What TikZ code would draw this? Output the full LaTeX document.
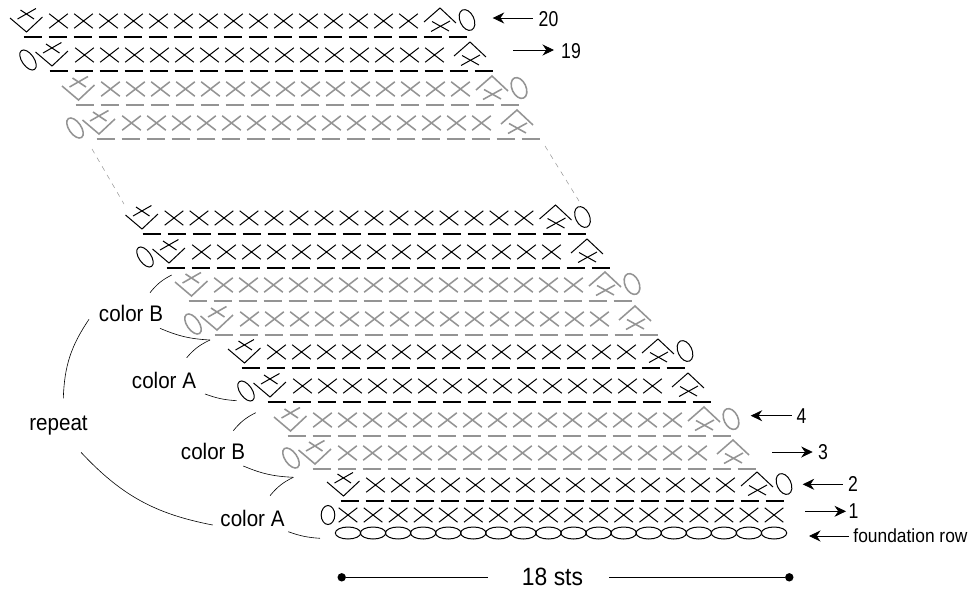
\documentclass[tikz,border=0pt]{standalone}
\usepackage{fontspec}
\setmainfont[FakeStretch=0.915]{Liberation Sans}
\newfontfamily\numfont[FakeStretch=0.82]{Liberation Sans}
\usetikzlibrary{arrows.meta}
\definecolor{stgray}{gray}{0.58}
\tikzset{
  inkst/.style={color=black,line width=1pt,underbar/.style={line width=1.3pt}},
  grayst/.style={color=stgray,line width=1.55pt,underbar/.style={line width=1.9pt}},
  rowarrow/.style={line width=.8pt,-{Stealth[length=11.5pt,width=11pt]}},
  lbl/.style={inner sep=0pt,font=\fontsize{22.5}{24}\selectfont},
  numlbl/.style={inner sep=0pt,font=\numfont\fontsize{21.5}{23}\selectfont},
  dotend/.style={circle,fill=black,inner sep=0pt,minimum size=8.4pt},
  xst/.pic={\draw (-9.3,-7.2) -- (9.3,7.2) (-9.3,7.2) -- (9.3,-7.2);},
  incst/.pic={\draw (-16.5,-3) -- (0,11) -- (16,-4);
    \draw (-9,-2) -- (9.5,-12.5);
    \draw (-6,-11) -- (7.5,-2);},
  decst/.pic={\draw (-16,1) -- (0,-13) -- (16,2);
    \draw (-9,10.5) -- (10,0);
    \draw (-8,0.5) -- (9,10);}
}
\begin{document}
\begin{tikzpicture}[x=1pt,y=-1pt]
  \useasboundingbox (0,0) rectangle (972,595);
  % rows ending in a chain on the right: y, first bar, symbol offset, style
  \foreach \ry/\dz/\so/\st in {21/33/0/inkst,89/85/0/grayst,218/152/-3.5/inkst,285/198/0/grayst,352/251/0/inkst,420/297/0/grayst,485/350/0/inkst}{
    \foreach \k in {0,...,17}
      \draw [\st,underbar] (\dz+25*\k-9.3,\ry+16) -- ++(18.6,0);
    \foreach \k in {0,...,14}
      \pic [\st] at (\dz+\so+25.5+25*\k,\ry) {xst};
    \pic [\st] at (\dz+\so-6.5,\ry) {incst};
    \pic [\st] at (\dz+\so+407,\ry) {decst};
    \draw [\st,shift={(\dz+\so+434,\ry-1)},rotate=25] (0,0) ellipse [x radius=7pt,y radius=11pt];
  }
  % rows starting with a chain on the left
  \foreach \ry/\dz/\st in {55/59/inkst,123/106/grayst,252/176/inkst,319/224/grayst,386/277/inkst,453/322/grayst}{
    \foreach \k in {0,...,17}
      \draw [\st,underbar] (\dz+25*\k-9.3,\ry+16) -- ++(18.6,0);
    \foreach \k in {0,...,14}
      \pic [\st] at (\dz+25.5+25*\k,\ry) {xst};
    \pic [\st] at (\dz-7,\ry) {incst};
    \pic [\st] at (\dz+411,\ry) {decst};
    \draw [\st,shift={(\dz-31,\ry+5)},rotate=35] (0,0) ellipse [x radius=6pt,y radius=11.5pt];
  }
  % row 1 and foundation
  \draw [inkst] (328,515) ellipse [x radius=6.8pt,y radius=9.5pt];
  \foreach \k in {0,...,17}{
    \pic [inkst] at (348+25.06*\k,515) {xst};
    \draw [inkst] (348+25.06*\k,533) ellipse [x radius=12.7pt,y radius=6pt];
  }
  % gap between the two parts
  \coordinate (gapla) at (92,149);
  \coordinate (gaplb) at (124,204);
  \coordinate (gapra) at (545,146);
  \coordinate (gaprb) at (579,201);
  \draw [stgray,line width=.5pt,dash pattern=on 5pt off 5pt] (gapla) -- (gaplb);
  \draw [stgray,line width=.5pt,dash pattern=on 5pt off 5pt] (gapra) -- (gaprb);
  % row numbers
  \node [numlbl] (n20) at (548.5,19) {20};
  \node [numlbl] (n19) at (571,51) {19};
  \node [numlbl] (n4) at (801.5,416) {4};
  \node [numlbl] (n3) at (823,452) {3};
  \node [numlbl] (n2) at (853,484) {2};
  \node [numlbl] (n1) at (853.5,511) {1};
  \node [lbl,font=\fontsize{19}{22}\selectfont] (nf) at (910.5,536) {foundation row};
  \coordinate (t20) at (532.7,18);
  \coordinate (h20) at (492.7,18);
  \coordinate (t19) at (513,50);
  \coordinate (h19) at (554,50);
  \coordinate (t4) at (791.7,415.7);
  \coordinate (h4) at (750.7,415.7);
  \coordinate (t3) at (772,452);
  \coordinate (h3) at (812.7,452);
  \coordinate (t2) at (842.7,484.3);
  \coordinate (h2) at (802.7,484.3);
  \coordinate (t1) at (805.3,511.3);
  \coordinate (h1) at (846,511.3);
  \coordinate (tf) at (849,536);
  \coordinate (hf) at (809,536);
  \foreach \n in {20,19,4,3,2,1,f}
    \draw [rowarrow] (t\n) -- (h\n);
  % width
  \node [lbl,font=\fontsize{25}{27}\selectfont] (sts) at (552.5,577) {18 sts};
  \node [dotend] (dotl) at (341.7,577.3) {};
  \node [dotend] (dotr) at (789.3,577.3) {};
  \coordinate (stsl) at (488,577.3);
  \coordinate (stsr) at (609,577.3);
  \draw [line width=.9pt] (dotl) -- (stsl);
  \draw [line width=.9pt] (stsr) -- (dotr);
  % colour labels and their curves
  \node [lbl] (repeatl) at (58.5,426) {repeat};
  \node [lbl] (colorb) at (131,313) {color B};
  \node [lbl] (colora) at (164,380) {color A};
  \node [lbl] (colorbb) at (213,451) {color B};
  \node [lbl] (coloraa) at (252.5,518) {color A};
  \coordinate (ra) at (63.3,398.3);
  \coordinate (rb) at (89,319.3);
  \coordinate (rc) at (81,452.3);
  \coordinate (rd) at (212.7,525);
  \draw [line width=.6pt] (ra) to[bend left=16] (rb);
  \draw [line width=.6pt] (rc) to[bend right=18] (rd);
  \coordinate (ba) at (150,292.7);
  \coordinate (bb) at (171.7,275);
  \coordinate (bc) at (160,328.3);
  \coordinate (bd) at (210,340);
  \coordinate (be) at (186.7,357.7);
  \coordinate (aa) at (205,394);
  \coordinate (ab) at (236.7,400.7);
  \coordinate (ca) at (233.3,430.7);
  \coordinate (cb) at (255.7,412.7);
  \coordinate (cc) at (243.3,466);
  \coordinate (cd) at (293.3,477.3);
  \coordinate (ce) at (270,495.7);
  \coordinate (da) at (288.3,531.7);
  \coordinate (db) at (320,538.3);
  \draw [line width=.6pt] (ba) to[bend left=12] (bb);
  \draw [line width=.6pt] (bc) to[bend right=10] (bd);
  \draw [line width=.6pt] (be) to[bend left=12] (bd);
  \draw [line width=.6pt] (aa) to[bend right=8] (ab);
  \draw [line width=.6pt] (ca) to[bend left=12] (cb);
  \draw [line width=.6pt] (cc) to[bend right=10] (cd);
  \draw [line width=.6pt] (ce) to[bend left=12] (cd);
  \draw [line width=.6pt] (da) to[bend right=8] (db);
\end{tikzpicture}
\end{document}
